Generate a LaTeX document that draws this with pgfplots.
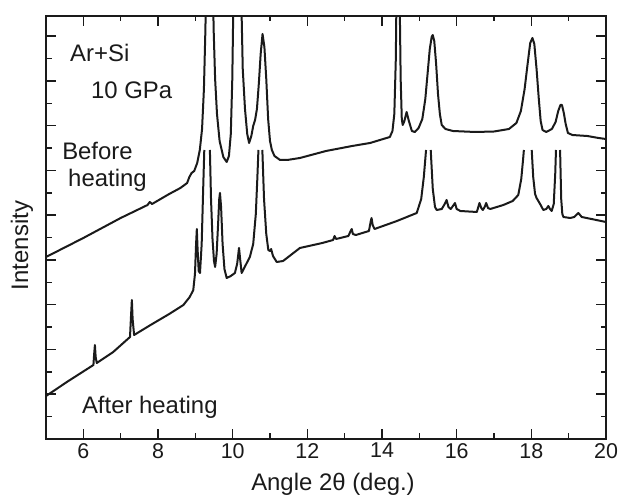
\documentclass[border=0pt]{standalone}
\usepackage{fontspec}
\setmainfont{Liberation Sans}
\usepackage{pgfplots}
\pgfplotsset{compat=1.18}
\definecolor{ink}{HTML}{1A1A1A}
\begin{document}
\begin{tikzpicture}
\path[use as bounding box] (0,0) rectangle (622bp,497bp);
\begin{axis}[
 at={(46bp,58bp)}, anchor=south west,
 scale only axis, width=560bp, height=423bp,
 xmin=5, xmax=20, ymin=0, ymax=423,
 xtick={6,8,...,20}, minor x tick num=1,
 ytick={0,44.75,...,420}, minor y tick num=1, yticklabels={},
 tick align=inside, major tick length=10bp, minor tick length=5.5bp,
 axis line style={line width=1.8bp, ink},
 every tick/.style={line width=1.5bp, ink},
 /pgf/number format/assume math mode=true,
 ticklabel style={font=\fontsize{21.5}{24}\selectfont, text=ink},
 xticklabel style={inner sep=0pt, yshift=-4bp},
 xlabel={Angle 2θ (deg.)}, ylabel={Intensity},
 label style={font=\fontsize{24}{28}\selectfont, text=ink},
 xlabel style={at={(axis description cs:0.5125,-0.1206)}, anchor=base},
 ylabel style={at={(axis description cs:-0.0321,0.4574)}, anchor=base},
]
% Before heating
\addplot[ink, line width=2bp, line join=round] coordinates {
(5.00,182)(6.00,201)(7.00,221)(7.72,234)(7.78,237)(7.84,235)(8.30,245)(8.60,251)(8.78,256)(8.84,262)(8.90,266)(8.97,268)(9.05,276)(9.12,289)(9.18,310)(9.23,350)(9.27,410)(9.30,480)(9.38,620)(9.46,480)(9.49,410)(9.53,360)(9.58,325)(9.65,298)(9.75,282)(9.84,277)(9.90,283)(9.95,305)(9.99,360)(10.02,440)(10.12,620)(10.22,460)(10.27,370)(10.33,330)(10.39,305)(10.44,296)(10.50,303)(10.55,313)(10.60,319)(10.65,330)(10.70,355)(10.75,385)(10.80,405)(10.85,392)(10.90,360)(10.95,320)(11.00,298)(11.05,289)(11.12,283)(11.27,279)(11.46,279)(11.80,281)(12.50,288)(13.20,293)(13.68,296)(14.21,302)(14.28,308)(14.33,325)(14.37,380)(14.39,450)(14.43,650)(14.47,450)(14.50,360)(14.53,320)(14.555,314)(14.60,318)(14.66,327)(14.72,318)(14.80,308)(14.88,307)(14.98,311)(15.08,320)(15.16,340)(15.22,365)(15.28,390)(15.33,402)(15.36,404)(15.40,398)(15.45,375)(15.50,345)(15.55,325)(15.60,314)(15.70,310)(15.90,308)(16.50,307)(17.00,307.5)(17.40,310)(17.60,316)(17.72,328)(17.82,350)(17.90,375)(17.97,396)(18.03,401)(18.08,395)(18.14,370)(18.20,340)(18.25,318)(18.30,309)(18.40,307)(18.55,310)(18.65,317)(18.72,328)(18.78,334)(18.82,334)(18.87,326)(18.92,315)(18.98,306)(19.10,304)(19.50,303)(19.80,301)(20.00,300)
};
% After heating
\addplot[ink, line width=2bp, line join=round, restrict y to domain=-100:289.5, unbounded coords=jump] coordinates {
(5.00,43)(5.60,58)(6.27,74)(6.29,85)(6.31,94)(6.33,82)(6.36,76)(6.80,87)(7.25,102)(7.28,125)(7.30,139)(7.32,120)(7.36,104)(7.80,114)(8.30,125)(8.68,134)(8.85,142)(8.945,149)(8.99,165)(9.02,195)(9.04,210)(9.06,190)(9.09,168)(9.125,166)(9.17,195)(9.21,250)(9.24,289)(9.31,600)(9.39,289)(9.42,240)(9.46,200)(9.50,178)(9.53,172)(9.57,185)(9.61,215)(9.64,240)(9.66,246)(9.69,232)(9.73,195)(9.78,170)(9.84,161)(9.95,163)(10.06,166)(10.12,175)(10.17,191)(10.20,180)(10.24,166)(10.35,174)(10.46,182)(10.55,195)(10.62,225)(10.66,260)(10.69,289)(10.74,600)(10.795,289)(10.84,240)(10.90,205)(10.955,189)(11.00,188)(11.03,190)(11.08,183)(11.18,177)(11.35,178)(11.80,191)(12.40,196)(12.69,199)(12.73,203)(12.77,200)(13.10,203)(13.16,208)(13.19,210)(13.22,205)(13.30,204)(13.65,208)(13.70,218)(13.72,221)(13.75,214)(13.80,210)(14.40,218)(14.93,226)(15.05,240)(15.12,262)(15.18,289)(15.24,600)(15.305,289)(15.36,250)(15.42,232)(15.465,229)(15.60,230)(15.68,235)(15.73,239)(15.78,232)(15.84,230)(15.90,233)(15.955,236)(16.00,230)(16.10,228)(16.54,227)(16.58,232)(16.61,236)(16.66,231)(16.70,229)(16.75,232)(16.79,236)(16.84,231)(16.90,230)(17.25,234)(17.50,238)(17.65,244)(17.73,260)(17.78,280)(17.80,289)(17.90,600)(18.01,289)(18.05,262)(18.10,245)(18.14,241)(18.25,234)(18.32,229)(18.40,230)(18.455,233)(18.50,230)(18.545,228)(18.60,235)(18.64,265)(18.66,289)(18.71,600)(18.77,289)(18.80,240)(18.83,225)(18.86,222)(19.04,221)(19.15,222)(19.26,226)(19.35,222)(19.48,221)(20.00,217)
};
\node[anchor=base west, inner sep=0pt, font=\fontsize{24}{28}\selectfont, text=ink] at (axis cs:5.643,377) {Ar+Si};
\node[anchor=base west, inner sep=0pt, font=\fontsize{24}{28}\selectfont, text=ink] at (axis cs:6.205,340) {10 GPa};
\node[anchor=base west, inner sep=0pt, font=\fontsize{24}{28}\selectfont, text=ink] at (axis cs:5.43,279) {Before};
\node[anchor=base west, inner sep=0pt, font=\fontsize{24}{28}\selectfont, text=ink] at (axis cs:5.59,252) {heating};
\node[anchor=base west, inner sep=0pt, font=\fontsize{24}{28}\selectfont, text=ink] at (axis cs:5.96,26) {After heating};
\end{axis}
\end{tikzpicture}
\end{document}
